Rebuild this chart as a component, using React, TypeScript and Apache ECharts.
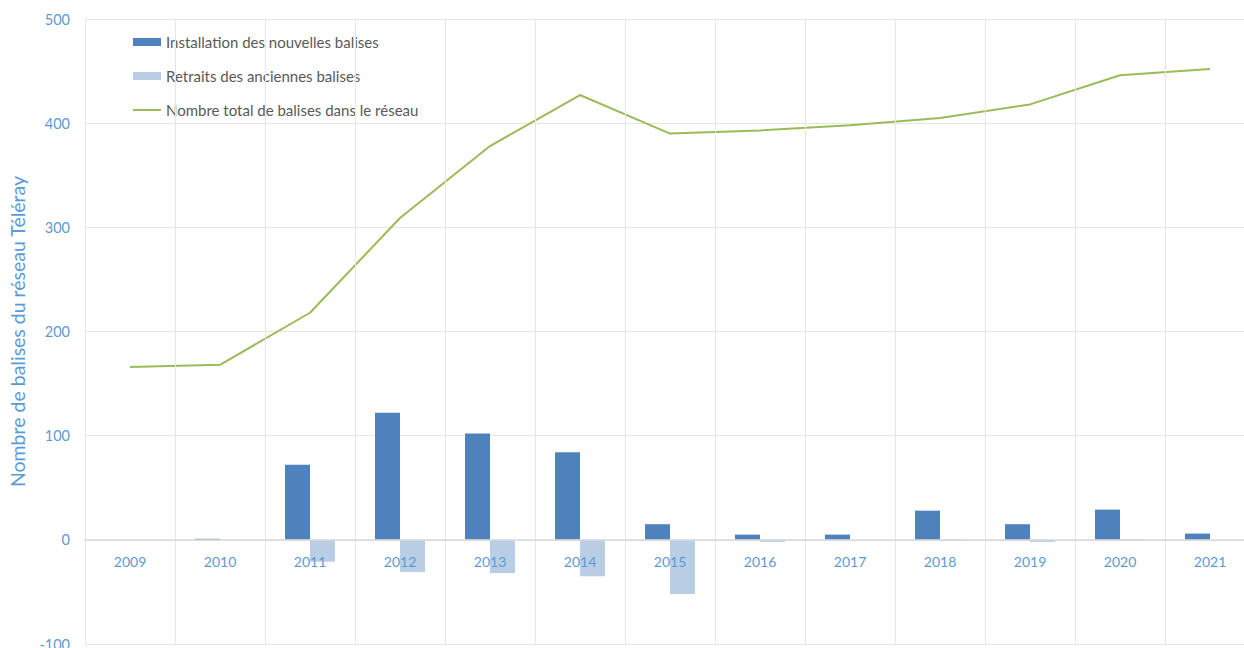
import React, { useEffect, useRef } from "react";
import * as echarts from "echarts";

const years = ["2009", "2010", "2011", "2012", "2013", "2014", "2015", "2016", "2017", "2018", "2019", "2020", "2021"];
const installations = [0, 1, 72, 122, 102, 84, 15, 5, 5, 28, 15, 29, 6];
const retraits = [0, 0, -21, -31, -32, -35, -52, -2, 0, -1, -2, -1, 0];
const totalBalises = [166, 168, 218, 309, 378, 427, 390, 393, 398, 405, 418, 446, 452];
const yTicks = { min: -100, max: 500, interval: 100 };

const FONT = "Lato, 'Open Sans', sans-serif";
const AXIS_TEXT = "#5B9BD5";

export default function App() {
  const ref = useRef<HTMLDivElement>(null);
  useEffect(() => {
    if (!ref.current) return;
    const chart = echarts.init(ref.current, undefined, { renderer: "svg" });
    chart.setOption({
      animation: false,
      backgroundColor: "#ffffff",
      textStyle: { fontFamily: FONT },
      grid: { left: 85, top: 19, width: 1170, height: 625, containLabel: false, outerBoundsMode: "none" },
      legend: {
        orient: "vertical",
        left: 132,
        top: 33,
        padding: 0,
        itemWidth: 28,
        itemHeight: 8,
        itemGap: 16,
        textStyle: { color: "#595959", fontSize: 15, lineHeight: 18, fontFamily: FONT },
        data: [
          { name: "Installation des nouvelles balises", icon: "rect" },
          { name: "Retraits des anciennes balises", icon: "rect" },
          { name: "Nombre total de balises dans le réseau", itemStyle: { opacity: 0 } },
        ],
      },
      xAxis: {
        type: "category",
        data: years,
        z: 5,
        offset: -104,
        axisLine: { onZero: false, lineStyle: { color: "#D9D9D9", width: 1.5 } },
        axisTick: { show: false },
        axisLabel: { color: AXIS_TEXT, fontSize: 14, margin: 14, fontFamily: FONT },
        splitLine: { show: true, lineStyle: { color: "#E6E6E6", width: 1 } },
      },
      yAxis: {
        type: "value",
        min: yTicks.min,
        max: yTicks.max,
        interval: yTicks.interval,
        name: "Nombre de balises du réseau Téléray",
        nameLocation: "middle",
        nameGap: 58,
        nameTextStyle: { color: AXIS_TEXT, fontSize: 19.5, fontFamily: FONT },
        axisLine: { show: false },
        axisTick: { show: false },
        axisLabel: { color: AXIS_TEXT, fontSize: 14.5, margin: 15, fontFamily: FONT },
        splitLine: { show: true, lineStyle: { color: "#E6E6E6", width: 1 } },
      },
      series: [
        {
          name: "Installation des nouvelles balises",
          type: "bar",
          data: installations,
          barWidth: 25,
          barGap: "0%",
          itemStyle: { color: "#4F81BD" },
        },
        {
          name: "Retraits des anciennes balises",
          type: "bar",
          data: retraits,
          barWidth: 25,
          barGap: "0%",
          itemStyle: { color: "#B9CDE5" },
        },
        {
          name: "Nombre total de balises dans le réseau",
          type: "line",
          data: totalBalises,
          symbol: "none",
          lineStyle: { color: "#9BBB59", width: 2 },
          itemStyle: { color: "#9BBB59" },
        },
      ],
    });
    return () => chart.dispose();
  }, []);
  return <div ref={ref} style={{ width: 1244, height: 648, position: "fixed", left: 0, top: 0 }} />;
}
